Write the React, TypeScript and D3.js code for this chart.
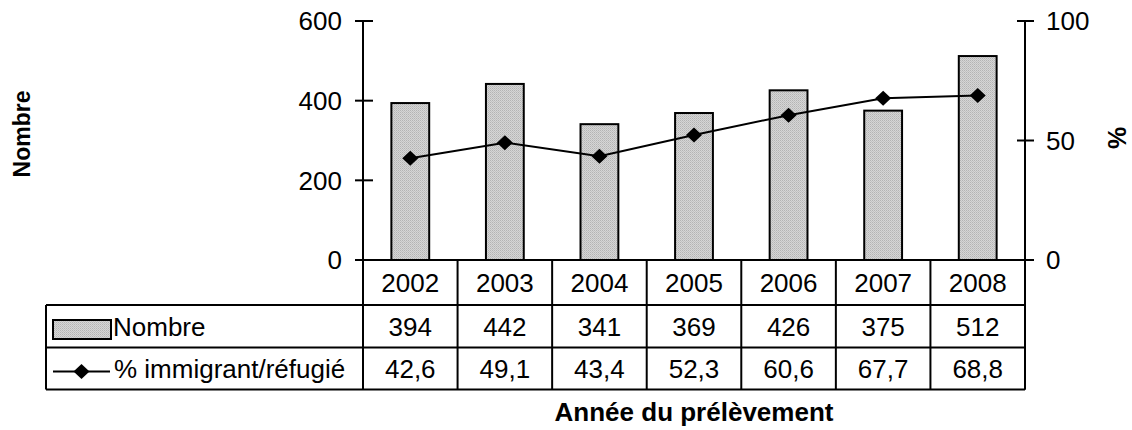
import React from 'react';
import * as d3 from 'd3';

const years = ['2002', '2003', '2004', '2005', '2006', '2007', '2008'];
const nombre = [394, 442, 341, 369, 426, 375, 512];
const pct = [42.6, 49.1, 43.4, 52.3, 60.6, 67.7, 68.8];
const pctLabels = ['42,6', '49,1', '43,4', '52,3', '60,6', '67,7', '68,8'];
const leftTicks = [0, 200, 400, 600];
const rightTicks = [0, 50, 100];

const FONT = '"Liberation Sans", Arial, sans-serif';

export default function App() {
  const W = 1132, H = 430;
  const x0 = 363, x1 = 1025;
  const yTop = 21, yBase = 260;
  const rowYears = 260, row1 = 305, row2 = 347.5, rowEnd = 389.5;
  const tableLeft = 46;

  const x = d3.scaleBand<string>().domain(years).range([x0, x1]).padding(0);
  const yL = d3.scaleLinear().domain([0, 600]).range([yBase, yTop]);
  const yR = d3.scaleLinear().domain([0, 100]).range([yBase, yTop]);
  const bw = x.bandwidth() * 0.4;
  const cx = (y: string) => (x(y) as number) + x.bandwidth() / 2;

  const line = d3.line<number>()
    .x((_, i) => cx(years[i]))
    .y((d) => yR(d));

  const diamond = (px: number, py: number) =>
    `M${px},${py - 7.5}L${px + 8},${py}L${px},${py + 7.5}L${px - 8},${py}Z`;

  const colEdges = years.map((y) => x(y) as number).concat([x1]);
  const fs = 26;

  return (
    <svg width={W} height={H} style={{ position: 'absolute', left: 0, top: 0, display: 'block' }}
      fontFamily={FONT}>
      <defs>
        <pattern id="dots" width="2" height="2" patternUnits="userSpaceOnUse">
          <rect width="2" height="2" fill="#d6d6d6" />
          <rect width="1" height="1" fill="#b4b4b4" />
          <rect x="1" y="1" width="1" height="1" fill="#c2c2c2" />
        </pattern>
      </defs>
      <rect width={W} height={H} fill="#fff" />

      {/* bars */}
      {years.map((y, i) => (
        <rect key={y} x={cx(y) - bw / 2} y={yL(nombre[i])} width={bw}
          height={yBase - yL(nombre[i])} fill="url(#dots)" stroke="#000" strokeWidth={2} />
      ))}

      {/* line */}
      <path d={line(pct) || ''} fill="none" stroke="#000" strokeWidth={2} />
      {pct.map((v, i) => (
        <path key={i} d={diamond(cx(years[i]), yR(v))} fill="#000" />
      ))}

      {/* left axis */}
      <line x1={x0} x2={x0} y1={yTop} y2={rowEnd} stroke="#000" strokeWidth={2} />
      {leftTicks.map((t) => (
        <g key={t}>
          <line x1={355} x2={373} y1={yL(t)} y2={yL(t)} stroke="#000" strokeWidth={2} />
          <text x={342} y={yL(t)} dy="0.36em" textAnchor="end" fontSize={fs}>{t}</text>
        </g>
      ))}

      {/* right axis */}
      <line x1={x1} x2={x1} y1={yTop} y2={rowEnd} stroke="#000" strokeWidth={2} />
      {rightTicks.map((t) => (
        <g key={t}>
          <line x1={1017} x2={1034} y1={yR(t)} y2={yR(t)} stroke="#000" strokeWidth={2} />
          <text x={1046} y={yR(t)} dy="0.36em" textAnchor="start" fontSize={fs}>{t}</text>
        </g>
      ))}

      {/* x axis / table */}
      <line x1={x0} x2={x1} y1={rowYears} y2={rowYears} stroke="#000" strokeWidth={2} />
      {[row1, row2, rowEnd].map((ry) => (
        <line key={ry} x1={tableLeft} x2={x1} y1={ry} y2={ry} stroke="#000" strokeWidth={2} />
      ))}
      <line x1={tableLeft} x2={tableLeft} y1={row1} y2={rowEnd} stroke="#000" strokeWidth={2} />
      {colEdges.map((ex, i) => (
        <line key={i} x1={ex} x2={ex} y1={rowYears} y2={rowEnd} stroke="#000" strokeWidth={2} />
      ))}

      {years.map((y, i) => (
        <g key={y} fontSize={fs} textAnchor="middle">
          <text x={cx(y)} y={(rowYears + row1) / 2} dy="0.36em">{y}</text>
          <text x={cx(y)} y={(row1 + row2) / 2} dy="0.36em">{nombre[i]}</text>
          <text x={cx(y)} y={(row2 + rowEnd) / 2} dy="0.36em">{pctLabels[i]}</text>
        </g>
      ))}

      {/* legend keys */}
      <rect x={53} y={320} width={58} height={19} fill="url(#dots)" stroke="#000" strokeWidth={2} />
      <text x={113} y={(row1 + row2) / 2} dy="0.36em" fontSize={fs}>Nombre</text>
      <line x1={53} x2={110} y1={371.5} y2={371.5} stroke="#000" strokeWidth={2} />
      <path d={diamond(81.5, 371.5)} fill="#000" />
      <text x={114} y={(row2 + rowEnd) / 2} dy="0.36em" fontSize={fs}>% immigrant/réfugié</text>

      {/* titles */}
      <text x={(x0 + x1) / 2} y={421} textAnchor="middle" fontSize={fs} fontWeight="bold">Année du prélèvement</text>
      <text transform={`translate(22,134) rotate(-90)`} textAnchor="middle" dy="0.36em"
        fontSize={23} fontWeight="bold">Nombre</text>
      <text transform={`translate(1117,138) rotate(-90)`} textAnchor="middle" dy="0.36em"
        fontSize={25} fontWeight="bold">%</text>
    </svg>
  );
}
